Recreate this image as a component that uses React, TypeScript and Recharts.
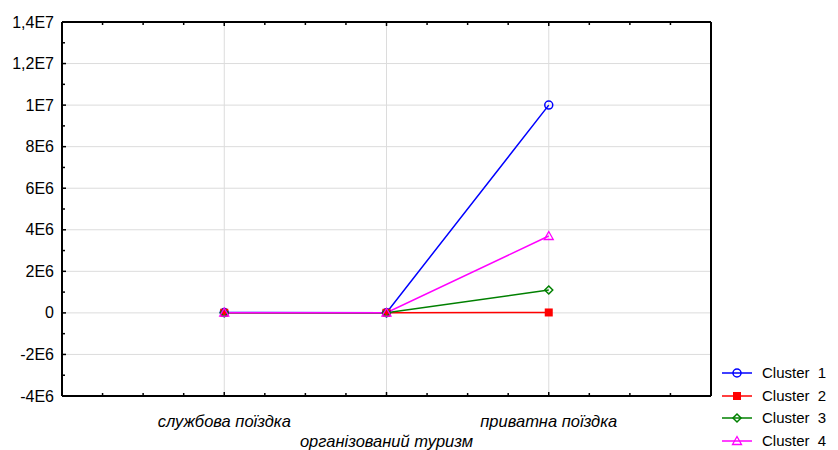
import { LineChart, Line, XAxis, YAxis, ReferenceLine } from "recharts";

const categories = ["службова поїздка", "організований туризм", "приватна поїздка"];
const positions = [1, 2, 3];

const cluster1 = [15000, 12000, 10000000];
const cluster2 = [8000, 5000, 20000];
const cluster3 = [10000, 6000, 1100000];
const cluster4 = [12000, 9000, 3700000];

const seriesNames = ["Cluster  1", "Cluster  2", "Cluster  3", "Cluster  4"];
const seriesColors = ["#0000ff", "#ff0000", "#008000", "#ff00ff"];
const seriesMarkers = ["circle", "square", "diamond", "triangle"];

const yMajor = [-4e6, -2e6, 0, 2e6, 4e6, 6e6, 8e6, 1e7, 1.2e7, 1.4e7];
const yLabels = ["-4E6", "-2E6", "0", "2E6", "4E6", "6E6", "8E6", "1E7", "1,2E7", "1,4E7"];
const yTicks = [
  -4e6, -3e6, -2e6, -1e6, 0, 1e6, 2e6, 3e6, 4e6, 5e6, 6e6, 7e6, 8e6, 9e6, 1e7, 1.1e7, 1.2e7,
  1.3e7, 1.4e7,
];
const xTicks = [0, 0.25, 0.5, 0.75, 1, 1.25, 1.5, 1.75, 2, 2.25, 2.5, 2.75, 3, 3.25, 3.5, 3.75, 4];

const FONT = "'Liberation Sans', Arial, sans-serif";
const M = 6; // tick margin

const data = categories.map((name, i) => ({
  name,
  pos: positions[i],
  c1: cluster1[i],
  c2: cluster2[i],
  c3: cluster3[i],
  c4: cluster4[i],
}));

function Marker({ kind, cx, cy, color }: { kind: string; cx: number; cy: number; color: string }) {
  if (kind === "circle")
    return <circle cx={cx} cy={cy} r={4} fill="none" stroke={color} strokeWidth={1.5} />;
  if (kind === "square")
    return <rect x={cx - 4} y={cy - 4} width={8} height={8} fill={color} />;
  if (kind === "diamond")
    return (
      <polygon
        points={`${cx},${cy - 4} ${cx + 4},${cy} ${cx},${cy + 4} ${cx - 4},${cy}`}
        fill="none"
        stroke={color}
        strokeWidth={1.5}
      />
    );
  return (
    <polygon
      points={`${cx},${cy - 4.5} ${cx + 4.5},${cy + 3.5} ${cx - 4.5},${cy + 3.5}`}
      fill="none"
      stroke={color}
      strokeWidth={1.3}
    />
  );
}

function dotFor(i: number) {
  return (p: any) => (
    <Marker key={`d${i}-${p.index}`} kind={seriesMarkers[i]} cx={p.cx} cy={p.cy} color={seriesColors[i]} />
  );
}

function LeftTick({ x, y, payload }: any) {
  const idx = yMajor.indexOf(payload.value);
  const ax = x + M;
  return (
    <g>
      <line x1={ax} x2={ax + (idx >= 0 ? 4 : 3)} y1={y} y2={y} stroke="#000" strokeWidth={1.5} />
      {idx >= 0 && (
        <text x={x - 2} y={y} textAnchor="end" dominantBaseline="central" fontSize={16} fontFamily={FONT} fill="#000">
          {yLabels[idx]}
        </text>
      )}
    </g>
  );
}

function RightTick({ x, y, payload }: any) {
  const major = yMajor.indexOf(payload.value) >= 0;
  const ax = x - M;
  return <line x1={ax} x2={ax - (major ? 4 : 3)} y1={y} y2={y} stroke="#000" strokeWidth={1.5} />;
}

function BottomTick({ x, y, payload }: any) {
  const v = payload.value;
  const ay = y - M;
  const ci = positions.indexOf(v);
  const major = Number.isInteger(v);
  return (
    <g>
      <line x1={x} x2={x} y1={ay} y2={ay - (major ? 4 : 3)} stroke="#000" strokeWidth={1.5} />
      {ci >= 0 && (
        <text
          x={x}
          y={ay + (ci % 2 === 1 ? 45 : 25)}
          textAnchor="middle"
          dominantBaseline="central"
          fontSize={16.5}
          fontStyle="italic"
          fontFamily={FONT}
          fill="#000"
        >
          {categories[ci]}
        </text>
      )}
    </g>
  );
}

function TopTick({ x, y, payload }: any) {
  const major = Number.isInteger(payload.value);
  const ay = y + M;
  return <line x1={x} x2={x} y1={ay} y2={ay + (major ? 4 : 3)} stroke="#000" strokeWidth={1.5} />;
}

const axisLine = { stroke: "#000", strokeWidth: 2 };
const gridColor = "#dcdcdc";

export default function App() {
  const keys = ["c1", "c2", "c3", "c4"];
  return (
    <div style={{ position: "absolute", left: 0, top: 0, width: 838, height: 450, background: "#fff", fontFamily: FONT }}>
      <LineChart width={838} height={450} data={data} margin={{ top: 12, right: 117, bottom: 0, left: 0 }}>
        <XAxis
          xAxisId="bottom"
          dataKey="pos"
          type="number"
          domain={[0, 4]}
          ticks={xTicks}
          interval={0}
          tickSize={0}
          tickMargin={M}
          tickLine={false}
          axisLine={axisLine}
          height={54}
          tick={<BottomTick />}
        />
        <XAxis
          xAxisId="top"
          orientation="top"
          dataKey="pos"
          type="number"
          domain={[0, 4]}
          ticks={xTicks}
          interval={0}
          tickSize={0}
          tickMargin={M}
          tickLine={false}
          axisLine={axisLine}
          height={10}
          tick={<TopTick />}
        />
        <YAxis
          yAxisId="left"
          type="number"
          domain={[-4e6, 1.4e7]}
          ticks={yTicks}
          interval={0}
          tickSize={0}
          tickMargin={M}
          tickLine={false}
          axisLine={axisLine}
          width={62}
          tick={<LeftTick />}
        />
        <YAxis
          yAxisId="right"
          orientation="right"
          type="number"
          domain={[-4e6, 1.4e7]}
          ticks={yTicks}
          interval={0}
          tickSize={0}
          tickMargin={M}
          tickLine={false}
          axisLine={axisLine}
          width={10}
          tick={<RightTick />}
        />
        {yMajor.slice(1, -1).map((v) => (
          <ReferenceLine key={`h${v}`} xAxisId="bottom" yAxisId="left" y={v} stroke={gridColor} strokeWidth={1} />
        ))}
        {positions.map((p) => (
          <ReferenceLine key={`v${p}`} xAxisId="bottom" yAxisId="left" x={p} stroke={gridColor} strokeWidth={1} />
        ))}
        {keys.map((k, i) => (
          <Line
            key={k}
            xAxisId="bottom"
            yAxisId="left"
            dataKey={k}
            name={seriesNames[i]}
            stroke={seriesColors[i]}
            strokeWidth={1.5}
            dot={dotFor(i)}
            activeDot={false}
            isAnimationActive={false}
          />
        ))}
      </LineChart>
      <div style={{ position: "absolute", left: 720, top: 362 }}>
        {seriesNames.map((n, i) => (
          <div key={n} style={{ display: "flex", alignItems: "center", height: 22.5 }}>
            <svg width={36} height={14} style={{ marginRight: 6 }}>
              <line x1={2} x2={32} y1={7} y2={7} stroke={seriesColors[i]} strokeWidth={1.5} />
              <Marker kind={seriesMarkers[i]} cx={17} cy={7} color={seriesColors[i]} />
            </svg>
            <span style={{ fontSize: 15, lineHeight: "16px", whiteSpace: "pre", color: "#000" }}>{n}</span>
          </div>
        ))}
      </div>
    </div>
  );
}
